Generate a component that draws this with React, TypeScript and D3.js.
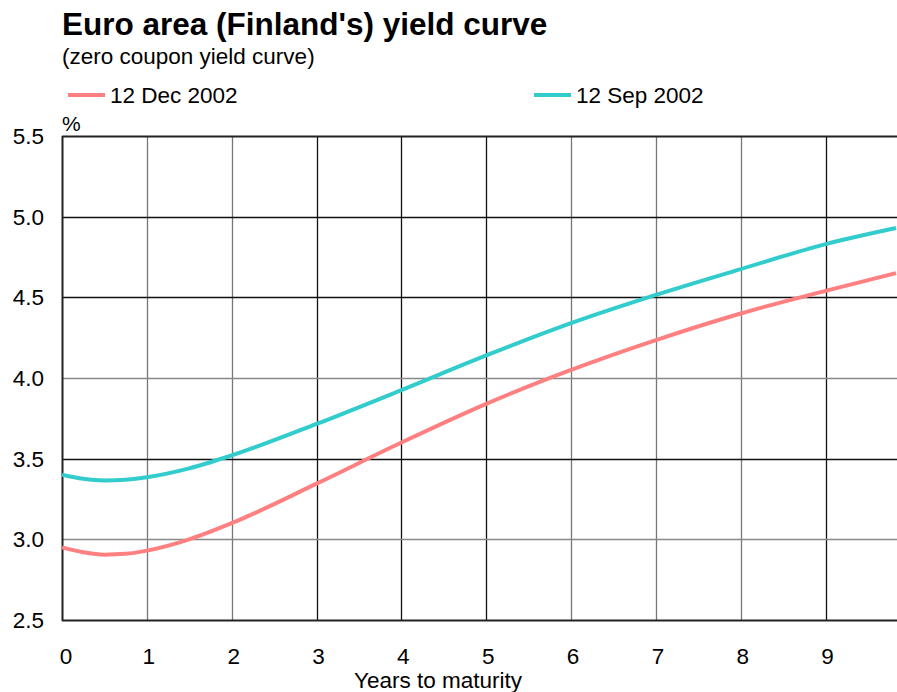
import React from "react";
import * as d3 from "d3";

const maturities = [0, 0.25, 0.5, 0.75, 1, 1.5, 2, 3, 4, 5, 6, 7, 8, 9, 9.83];
const dec2002 = [2.95, 2.92, 2.905, 2.91, 2.93, 3.0, 3.10, 3.345, 3.60, 3.84, 4.05, 4.235, 4.40, 4.54, 4.65];
const sep2002 = [3.40, 3.375, 3.365, 3.37, 3.385, 3.44, 3.52, 3.715, 3.925, 4.14, 4.34, 4.515, 4.675, 4.83, 4.93];
const yTicks = [2.5, 3.0, 3.5, 4.0, 4.5, 5.0, 5.5];
const xTicks = [0, 1, 2, 3, 4, 5, 6, 7, 8, 9];
const seriesNames = ["12 Dec 2002", "12 Sep 2002"];
const seriesColors = ["#FF8080", "#33CCCC"];

const W = 897, H = 692;
const left = 62, right = 896, top = 136, bottom = 620;

export default function App() {
  const x = d3.scaleLinear().domain([0, 9.83]).range([left, right]);
  const y = d3.scaleLinear().domain([2.5, 5.5]).range([bottom, top]);
  const line = d3.line<number>()
    .x((_, i) => x(maturities[i]))
    .y((d) => y(d))
    .curve(d3.curveMonotoneX);
  const font = "'Liberation Sans', Arial, sans-serif";
  const vGridColor = (t: number) => ([3, 4, 5, 9].includes(t) ? "#111" : "#777");
  const hGridColor = (v: number) => ([3.0, 4.0].includes(v) ? "#888" : "#111");
  return (
    <svg width={W} height={H} style={{ position: "absolute", left: 0, top: 0, background: "#fff" }} fontFamily={font}>
      <text x={62} y={35} fontSize={31.5} fontWeight="bold">Euro area (Finland's) yield curve</text>
      <text x={62} y={64} fontSize={22.5}>(zero coupon yield curve)</text>
      {seriesNames.map((n, i) => {
        const lx = i === 0 ? 68 : 534;
        return (
          <g key={n}>
            <line x1={lx} x2={lx + 37} y1={95} y2={95} stroke={seriesColors[i]} strokeWidth={4} />
            <text x={lx + 42} y={103} fontSize={22.5}>{n}</text>
          </g>
        );
      })}
      <text x={62} y={131} fontSize={21}>%</text>
      {xTicks.filter((t) => t > 0).map((t) => (
        <line key={t} x1={Math.round(x(t)) + 0.5} x2={Math.round(x(t)) + 0.5} y1={top} y2={bottom} stroke={vGridColor(t)} strokeWidth={1.3} />
      ))}
      {yTicks.filter((v) => v > 2.5 && v < 5.5).map((v) => (
        <line key={v} x1={left} x2={right + 1} y1={Math.round(y(v)) + 0.5} y2={Math.round(y(v)) + 0.5} stroke={hGridColor(v)} strokeWidth={1.3} />
      ))}
      <line x1={left} x2={W} y1={top + 0.5} y2={top + 0.5} stroke="#222" strokeWidth={2} />
      <line x1={left} x2={W} y1={bottom + 0.5} y2={bottom + 0.5} stroke="#222" strokeWidth={2} />
      <line x1={left + 0.5} x2={left + 0.5} y1={top} y2={bottom + 1} stroke="#222" strokeWidth={2} />
      {yTicks.map((v) => (
        <text key={v} x={44} y={y(v) + 8} fontSize={22.5} textAnchor="end">{v.toFixed(1)}</text>
      ))}
      {xTicks.map((t) => (
        <text key={t} x={x(t) + (t === 0 ? 4 : 2)} y={664} fontSize={22.5} textAnchor="middle">{t}</text>
      ))}
      <text x={438} y={688} fontSize={22.5} textAnchor="middle">Years to maturity</text>
      {[dec2002, sep2002].map((s, i) => (
        <path key={i} d={line(s) || ""} fill="none" stroke={seriesColors[i]} strokeWidth={4} />
      ))}
    </svg>
  );
}
